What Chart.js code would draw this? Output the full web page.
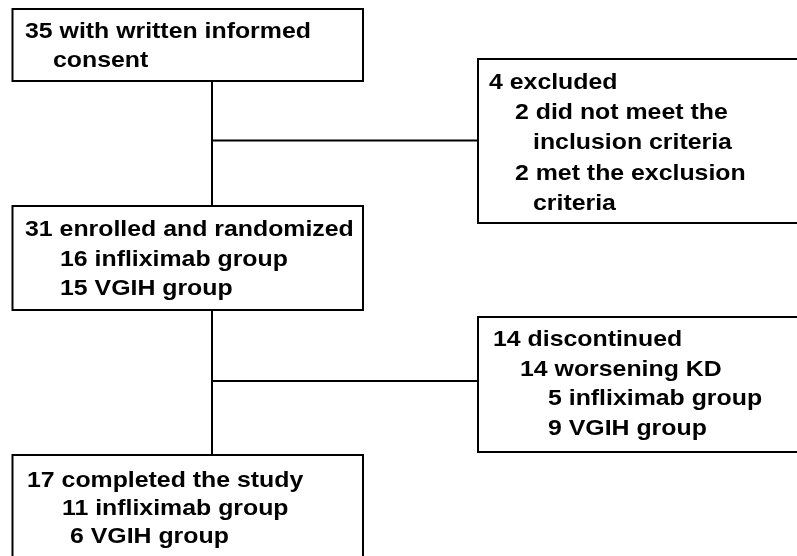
<!DOCTYPE html>
<html>
<head>
<meta charset="utf-8">
<script src="https://cdn.jsdelivr.net/npm/chart.js@4"></script>
<style>
html,body{margin:0;padding:0;background:#fff;}
#wrap{width:797px;height:556px;position:relative;}
</style>
</head>
<body>
<div id="wrap"><canvas id="c" width="797" height="556"></canvas></div>
<script>
// ---- data (texts of each flowchart box) ----
const consentLines = ["35 with written informed", "consent"];
const excludedLines = ["4 excluded", "2 did not meet the", "inclusion criteria", "2 met the exclusion", "criteria"];
const enrolledLines = ["31 enrolled and randomized", "16 infliximab group", "15 VGIH group"];
const discontinuedLines = ["14 discontinued", "14 worsening KD", "5 infliximab group", "9 VGIH group"];
const completedLines = ["17 completed the study", "11 infliximab group", "6 VGIH group"];

// ---- layout (in axis units, separate from the data) ----
const boxes = [
  {lines: consentLines, x0: 12.5, y0: 9, x1: 363, y1: 81, tx: [25, 53], ty: [37.5, 67]},
  {lines: excludedLines, x0: 478, y0: 59, x1: 805, y1: 223, tx: [489, 515, 533, 515, 533], ty: [89, 119, 149, 180, 210]},
  {lines: enrolledLines, x0: 12.5, y0: 206, x1: 363, y1: 310, tx: [25, 60, 60], ty: [236, 266, 295]},
  {lines: discontinuedLines, x0: 478, y0: 317, x1: 805, y1: 452, tx: [493, 520, 548, 548], ty: [346, 376, 405, 435]},
  {lines: completedLines, x0: 12.5, y0: 455, x1: 363, y1: 620, tx: [27, 62, 70], ty: [487, 515, 543]}
];
const connectors = [
  [[212, 81], [212, 206]],
  [[212, 140.5], [478, 140.5]],
  [[212, 310], [212, 455]],
  [[212, 381], [478, 381]]
];
const textStretch = 1.13;

const flowPlugin = {
  id: 'flow',
  afterDraw(chart) {
    const ctx = chart.ctx, xs = chart.scales.x, ys = chart.scales.y;
    const X = v => xs.getPixelForValue(v), Y = v => ys.getPixelForValue(v);
    ctx.save();
    ctx.strokeStyle = '#000';
    ctx.lineWidth = 2;
    connectors.forEach(seg => {
      ctx.beginPath();
      ctx.moveTo(X(seg[0][0]), Y(seg[0][1]));
      ctx.lineTo(X(seg[1][0]), Y(seg[1][1]));
      ctx.stroke();
    });
    ctx.font = 'bold 22px "Liberation Sans", Arial, sans-serif';
    ctx.textBaseline = 'alphabetic';
    boxes.forEach(b => {
      ctx.fillStyle = '#fff';
      ctx.fillRect(X(b.x0), Y(b.y0), X(b.x1) - X(b.x0), Y(b.y1) - Y(b.y0));
      ctx.strokeRect(X(b.x0), Y(b.y0), X(b.x1) - X(b.x0), Y(b.y1) - Y(b.y0));
      ctx.fillStyle = '#000';
      b.lines.forEach((t, i) => {
        ctx.save();
        ctx.translate(X(b.tx[i]), Y(b.ty[i]));
        ctx.scale(textStretch, 1);
        ctx.fillText(t, 0, 0);
        ctx.restore();
      });
    });
    ctx.restore();
  }
};

new Chart(document.getElementById('c'), {
  type: 'scatter',
  data: {datasets: [{data: [], showLine: false}]},
  options: {
    responsive: false,
    animation: false,
    layout: {padding: 0},
    plugins: {legend: {display: false}, tooltip: {enabled: false}},
    scales: {
      x: {type: 'linear', min: 0, max: 797, display: false},
      y: {type: 'linear', min: 0, max: 556, reverse: true, display: false}
    }
  },
  plugins: [flowPlugin]
});
</script>
</body>
</html>
